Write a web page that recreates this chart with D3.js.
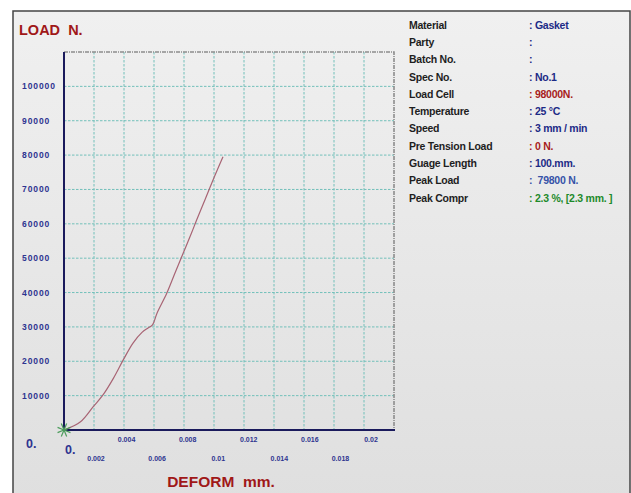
<!DOCTYPE html>
<html>
<head>
<meta charset="utf-8">
<script src="https://cdn.jsdelivr.net/npm/d3@7"></script>
<style>
  html, body { margin: 0; padding: 0; background: #fff; }
  svg { display: block; font-family: "Liberation Sans", Arial, sans-serif; }
  text { white-space: pre; }
</style>
</head>
<body>
<div id="chart"></div>
<script>
// curve
var deform = [0, 0.0011, 0.00195, 0.0026, 0.0033, 0.00395, 0.0046, 0.0052, 0.0056, 0.0059,
              0.0062, 0.00685, 0.0074, 0.00795, 0.0085, 0.00885, 0.0094, 0.00995, 0.0106];
var load   = [0, 2400, 6800, 10200, 15100, 20400, 25300, 28400, 29700, 30600,
              34000, 39800, 45700, 51500, 57300, 61200, 67000, 72900, 79500];

var yTicks = [10000, 20000, 30000, 40000, 50000, 60000, 70000, 80000, 90000, 100000];
var xTicksTop = [0.004, 0.008, 0.012, 0.016, 0.02];
var xTicksBottom = [0.002, 0.006, 0.01, 0.014, 0.018];
var xGrid = d3.range(1, 11).map(function (i) { return i * 0.002; });

var infoLabels = ["Material", "Party", "Batch No.", "Spec No.", "Load Cell", "Temperature",
                  "Speed", "Pre Tension Load", "Guage Length", "Peak Load", "Peak Compr"];
var infoValues = [": Gasket", ":", ":", ": No.1", ": 98000N.", ": 25 \u00B0C",
                  ": 3 mm / min", ": 0 N.", ": 100.mm.", ":  79800 N.", ": 2.3 %, [2.3 mm. ]"];
var infoColors = ["#1c2a86", "#1c2a86", "#1c2a86", "#1c2a86", "#a81c1c", "#1c2a86",
                  "#1c2a86", "#a81c1c", "#1c2a86", "#3552a8", "#1e8a2a"];

var width = 631, height = 493;
var plotL = 64, plotR = 394, plotT = 52, plotB = 430;

var svg = d3.select("#chart").append("svg")
    .attr("width", width)
    .attr("height", height);

var grad = svg.append("defs").append("linearGradient")
    .attr("id", "bg").attr("x1", 0).attr("y1", 0).attr("x2", 0).attr("y2", 1);
grad.append("stop").attr("offset", "0%").attr("stop-color", "#f0f0f0");
grad.append("stop").attr("offset", "100%").attr("stop-color", "#dfdfdf");

// frame
svg.append("rect").attr("x", 13).attr("y", 11).attr("width", 617).attr("height", 490)
    .attr("fill", "url(#bg)");
svg.append("path")
    .attr("d", "M13," + height + "V11H630V" + height)
    .attr("fill", "none").attr("stroke", "#444").attr("stroke-width", 1.5);

var x = d3.scaleLinear().domain([0, 0.022]).range([plotL, plotR]);
var y = d3.scaleLinear().domain([0, 110000]).range([plotB, plotT]);
// tick labels sit a little to the right of the grid in the original
var xLab = d3.scaleLinear().domain([0.002, 0.02]).range([96, 371]);

// grid
svg.append("g").selectAll("line").data(xGrid).enter().append("line")
    .attr("x1", function (d) { return x(d); }).attr("x2", function (d) { return x(d); })
    .attr("y1", plotT).attr("y2", plotB)
    .attr("stroke", "#72c0ba").attr("stroke-width", 1).attr("stroke-dasharray", "2.5,1.5");
svg.append("g").selectAll("line").data(yTicks).enter().append("line")
    .attr("x1", plotL).attr("x2", plotR)
    .attr("y1", function (d) { return y(d); }).attr("y2", function (d) { return y(d); })
    .attr("stroke", "#72c0ba").attr("stroke-width", 1).attr("stroke-dasharray", "2.5,1.5");

// top and right borders (dashed gray)
svg.append("path")
    .attr("d", "M" + plotL + "," + plotT + "H" + plotR + "V" + plotB)
    .attr("fill", "none").attr("stroke", "#8d8d8d").attr("stroke-width", 1.6)
    .attr("stroke-dasharray", "4,1,1,1");

// axes
svg.append("path")
    .attr("d", "M" + plotL + "," + plotT + "V" + plotB + "H" + (plotR + 1))
    .attr("fill", "none").attr("stroke", "#1a1a5c").attr("stroke-width", 2);

// curve
var line = d3.line()
    .x(function (d, i) { return x(deform[i]); })
    .y(function (d, i) { return y(load[i]); })
    .curve(d3.curveCatmullRom);
svg.append("path").datum(load)
    .attr("d", line)
    .attr("fill", "none").attr("stroke", "#a86474").attr("stroke-width", 1.2);

// origin marker
var star = svg.append("g").attr("transform", "translate(" + x(0) + "," + y(0) + ")");
d3.range(8).forEach(function (i) {
    var a = i * Math.PI / 4 + Math.PI / 8;
    star.append("line").attr("x1", 0).attr("y1", 0)
        .attr("x2", Math.cos(a) * 7).attr("y2", Math.sin(a) * 7)
        .attr("stroke", "#4c9c5c").attr("stroke-width", 1.2);
});

// y tick labels
svg.append("g").selectAll("text").data(yTicks).enter().append("text")
    .attr("x", 22).attr("y", function (d) { return y(d); })
    .attr("dy", "0.35em")
    .attr("font-size", 8.5).attr("font-weight", "bold").attr("letter-spacing", 0.9)
    .attr("fill", "#2e3490")
    .text(function (d) { return d; });

// x tick labels, two rows
svg.append("g").selectAll("text").data(xTicksTop).enter().append("text")
    .attr("x", function (d) { return xLab(d); }).attr("y", 439.5).attr("dy", "0.35em")
    .attr("text-anchor", "middle")
    .attr("font-size", 7).attr("font-weight", "bold").attr("fill", "#2e3490")
    .text(function (d) { return d; });
svg.append("g").selectAll("text").data(xTicksBottom).enter().append("text")
    .attr("x", function (d) { return xLab(d); }).attr("y", 459).attr("dy", "0.35em")
    .attr("text-anchor", "middle")
    .attr("font-size", 7).attr("font-weight", "bold").attr("fill", "#2e3490")
    .text(function (d) { return d; });

// zero labels
svg.append("text").attr("x", 26).attr("y", 447.5)
    .attr("font-size", 12.5).attr("font-weight", "bold").attr("fill", "#2e3490").text("0.");
svg.append("text").attr("x", 65).attr("y", 454)
    .attr("font-size", 12.5).attr("font-weight", "bold").attr("fill", "#2e3490").text("0.");

// axis titles
svg.append("text").attr("x", 19).attr("y", 35)
    .attr("font-size", 14.5).attr("font-weight", "bold").attr("fill", "#a01818")
    .text("LOAD  N.");
svg.append("text").attr("x", 221).attr("y", 487).attr("text-anchor", "middle")
    .attr("font-size", 15.5).attr("font-weight", "bold").attr("fill", "#a01818")
    .text("DEFORM  mm.");

// info panel
var info = svg.append("g");
infoLabels.forEach(function (lab, i) {
    var yy = 25 + i * 17.3;
    info.append("text").attr("x", 409).attr("y", yy).attr("dy", "0.35em")
        .attr("font-size", 10.5).attr("font-weight", "bold").attr("letter-spacing", -0.25)
        .attr("fill", "#1e1e1e").text(lab);
    info.append("text").attr("x", 529).attr("y", yy).attr("dy", "0.35em")
        .attr("font-size", 10.5).attr("font-weight", "bold").attr("letter-spacing", -0.25)
        .attr("fill", infoColors[i]).text(infoValues[i]);
});
</script>
</body>
</html>
